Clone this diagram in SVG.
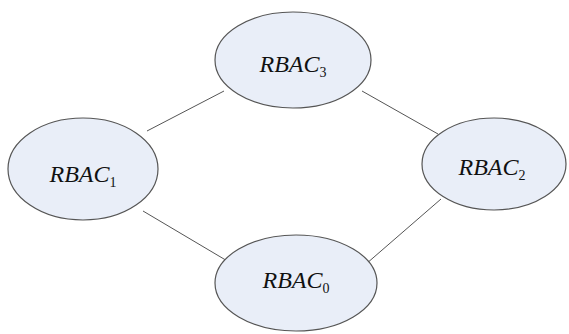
<svg xmlns="http://www.w3.org/2000/svg" width="569" height="334" viewBox="0 0 569 334">
<style>
.n{fill:#e9eef8;stroke:#555;stroke-width:1.2}
.t{font-family:"Liberation Serif",serif;font-style:italic;font-size:24px;fill:#111;text-anchor:middle}
.s{font-size:14px;font-style:normal}
.c line{stroke:#555;stroke-width:1}
</style>
<rect width="569" height="334" fill="#fff"/>
<g class="c" id="connectors">
<line x1="147" y1="131" x2="224" y2="91"/>
<line x1="362" y1="91" x2="438" y2="134"/>
<line x1="143" y1="211" x2="229" y2="262"/>
<line x1="366" y1="264" x2="441" y2="199"/>
</g>
<g id="rbac3"><ellipse class="n" cx="293" cy="60" rx="78" ry="48"/><text class="t" x="293" y="72">RBAC<tspan class="s" dy="5">3</tspan></text></g>
<g id="rbac1"><ellipse class="n" cx="83" cy="169" rx="75" ry="51"/><text class="t" x="83" y="182">RBAC<tspan class="s" dy="5">1</tspan></text></g>
<g id="rbac2"><ellipse class="n" cx="494" cy="164" rx="72" ry="46"/><text class="t" x="492" y="175">RBAC<tspan class="s" dy="5">2</tspan></text></g>
<g id="rbac0"><ellipse class="n" cx="296" cy="283" rx="81" ry="48"/><text class="t" x="296" y="288">RBAC<tspan class="s" dy="5">0</tspan></text></g>
</svg>
